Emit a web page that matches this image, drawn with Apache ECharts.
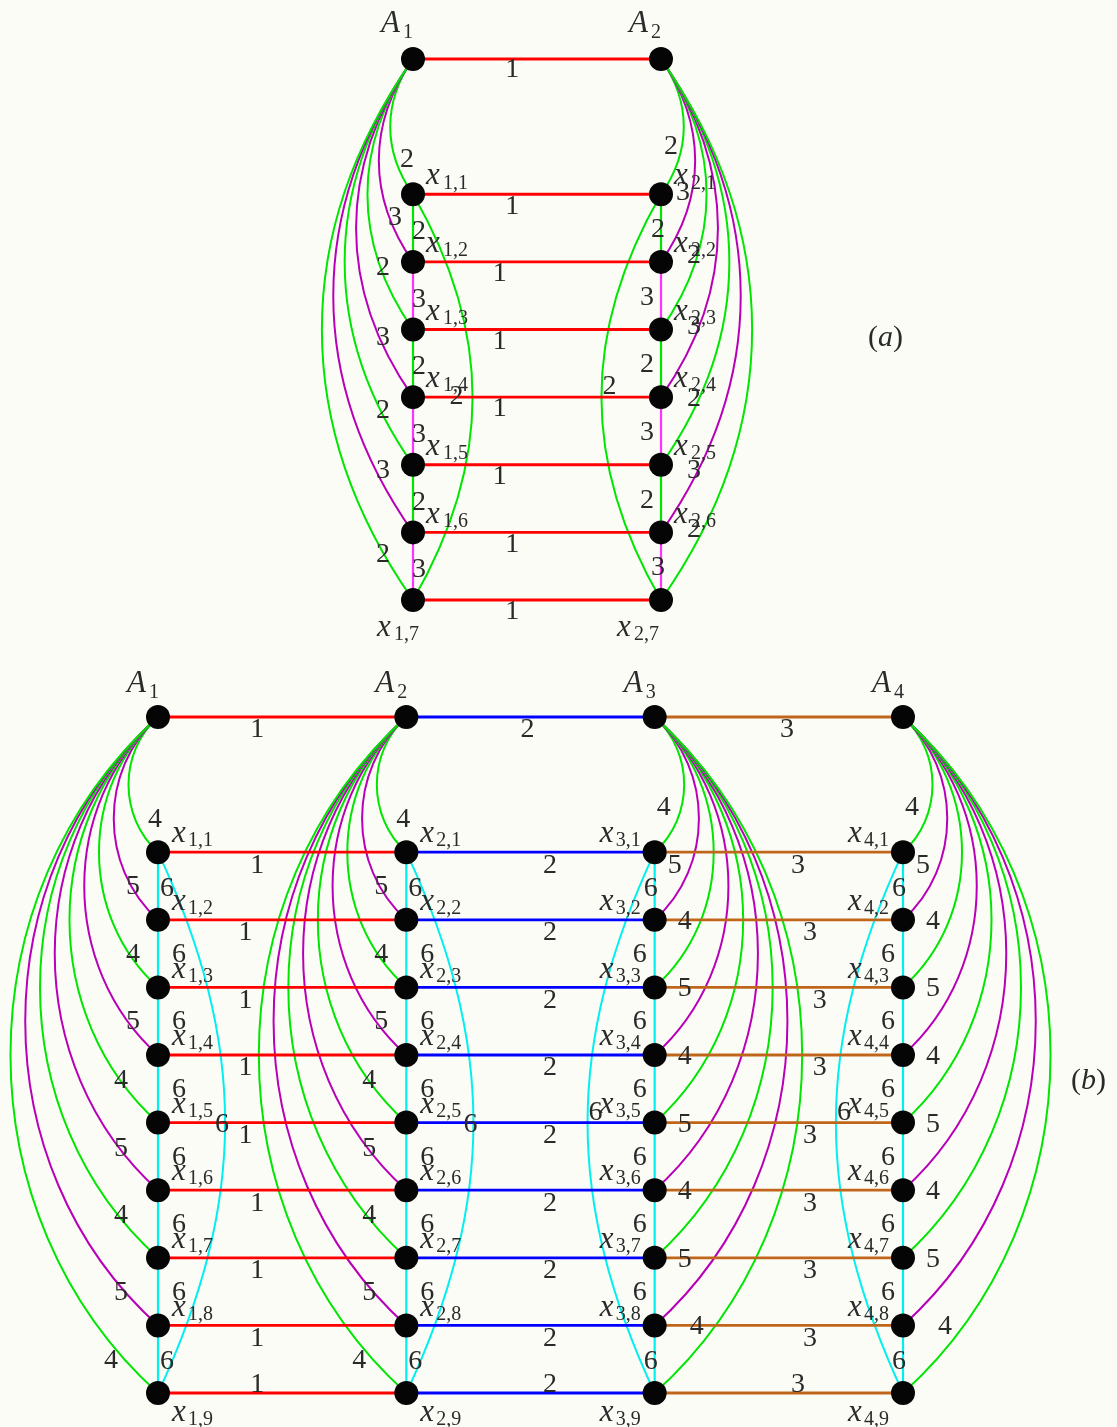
<!DOCTYPE html>
<html>
<head>
<meta charset="utf-8">
<script src="https://cdn.jsdelivr.net/npm/echarts@6/dist/echarts.min.js"></script>
<style>
  html, body { margin: 0; padding: 0; background: #fcfcf7; }
  #chart { width: 1117px; height: 1427px; }
</style>
</head>
<body>
<div id="chart"></div>
<script>
// ---------------- graph data ----------------
// Panel (a): hubs A1, A2, each with a column of vertices x_{i,1..7}
const hubsA = [1, 2];
const rowsA = [1, 2, 3, 4, 5, 6, 7];
const hubLabelsA = [1];                      // A_i – A_{i+1}
const rungLabelsA = [1];                     // x_{i,k} – x_{i+1,k}
const spokeLabelsA = [2, 3, 2, 3, 2, 3, 2];  // A_i – x_{i,k}
const pathLabelsA = [2, 3, 2, 3, 2, 3];      // x_{i,k} – x_{i,k+1}
const chordLabelsA = [2, 2];                 // x_{i,1} – x_{i,7}

// Panel (b): hubs A1..A4, each with a column of vertices x_{i,1..9}
const hubsB = [1, 2, 3, 4];
const rowsB = [1, 2, 3, 4, 5, 6, 7, 8, 9];
const hubLabelsB = [1, 2, 3];
const rungLabelsB = [1, 2, 3];
const spokeLabelsB = [4, 5, 4, 5, 4, 5, 4, 5, 4];
const pathLabelsB = [6, 6, 6, 6, 6, 6, 6, 6];
const chordLabelsB = [6, 6, 6, 6];

// ---------------- styling ----------------
const FONT = '"Liberation Serif", "DejaVu Serif", serif';
const INK = '#2a2a2a';
const colorA = { 1: '#ff0000', 2: '#00e600', 3: '#b800b8' };
const pathColorA = { 2: '#00e600', 3: '#ff33ff' };
const colorB = { 1: '#ff0000', 2: '#0000ff', 3: '#c0661a', 4: '#00e600', 5: '#b800b8', 6: '#00f0f0' };
const DEG = Math.PI / 180;

// edge kinds
const HUB = 0, RUNG = 1, SPOKE = 2, PATH = 3, CHORD = 4;

// edge record: [col0, row0, col1, row1, label, kind, k, col]
function buildEdges(hubs, rows, hubLabels, rungLabels, spokeLabels, pathLabels, chordLabels) {
  const edges = [];
  const n = hubs.length, m = rows.length;
  for (let i = 0; i < n - 1; i++) edges.push([i, 0, i + 1, 0, hubLabels[i], HUB, 0, i]);
  rows.forEach(k => {
    for (let i = 0; i < n - 1; i++) edges.push([i, k + 1, i + 1, k + 1, rungLabels[i], RUNG, k, i]);
  });
  for (let i = 0; i < n; i++) {
    rows.forEach((k, r) => edges.push([i, 0, i, k + 1, spokeLabels[r], SPOKE, k, i]));
    for (let r = 0; r < m - 1; r++) edges.push([i, rows[r] + 1, i, rows[r + 1] + 1, pathLabels[r], PATH, rows[r], i]);
    edges.push([i, rows[0] + 1, i, rows[m - 1] + 1, chordLabels[i], CHORD, 0, i]);
  }
  return edges;
}
function buildNodes(hubs, rows) {
  const nodes = [];
  hubs.forEach((h, i) => {
    nodes.push([i, 0, 0]);
    rows.forEach(k => nodes.push([i, k + 1, k]));
  });
  return nodes;
}

// cubic "bend" between two points (control points at angle theta off the chord)
function bend(p0, p1, theta, side) {
  const dx = p1[0] - p0[0], dy = p1[1] - p0[1];
  const L = Math.hypot(dx, dy);
  const ux = dx / L, uy = dy / L;
  const px = uy, py = -ux;
  const d = 0.3915 * L;
  const c = Math.cos(theta), s = Math.sin(theta) * side;
  return {
    x1: p0[0], y1: p0[1], x2: p1[0], y2: p1[1],
    cpx1: p0[0] + d * (c * ux + s * px), cpy1: p0[1] + d * (c * uy + s * py),
    cpx2: p1[0] + d * (-c * ux + s * px), cpy2: p1[1] + d * (-c * uy + s * py)
  };
}
function bezMid(b) {
  return [(b.x1 + 3 * b.cpx1 + 3 * b.cpx2 + b.x2) / 8, (b.y1 + 3 * b.cpy1 + 3 * b.cpy2 + b.y2) / 8];
}

// ---------------- panel layouts ----------------
const layoutA = {
  cols: 2, spokeBend: 35 * DEG, chordBend: 30 * DEG,
  edgeColor: (lab, kind) => kind === PATH ? pathColorA[lab] : colorA[lab],
  label(kind, k, col, p0, p1, geo) {
    if (kind === HUB) return [p0[0] + 0.4 * (p1[0] - p0[0]), p0[1] + 11];
    if (kind === RUNG) {
      const t = (k >= 2 && k <= 5) ? 0.35 : 0.4;
      return [p0[0] + t * (p1[0] - p0[0]), p0[1] + 12];
    }
    if (kind === SPOKE) {
      const left = [[-6, -35], [-18, -44], [-30, -62], [-30, -59], [-30, -54], [-30, -62], [-30, -45]];
      const right = [[10, -48], [22, -69], [33, -74], [33, -70], [33, -66], [33, -62], [33, -70]];
      const o = (col === 0 ? left : right)[k - 1];
      return [p1[0] + o[0], p1[1] + o[1]];
    }
    if (kind === PATH) {
      if (col === 0) return [p1[0] + 6, p1[1] - 30];
      const edge = (k === 1 || k === 6);
      return [p1[0] + (edge ? -3 : -14), p1[1] - 32];
    }
    const mid = bezMid(geo);
    return col === 0 ? [mid[0] - 16, mid[1]] : [mid[0] + 8, mid[1] - 10];
  },
  nodeLabel(col, k, x, y) {
    if (k === 0) return { main: 'A', sub: String(col + 1), mx: x - 32, my: y - 35, sx: x - 10, sy: y - 26 };
    const sub = (col + 1) + ',' + k;
    if (k === 7) {
      const mx = x + (col === 0 ? -36 : -44);
      return { main: 'x', sub, mx, my: y + 28, sx: mx + 17, sy: y + 35 };
    }
    return { main: 'x', sub, mx: x + 13, my: y - 18, sx: x + 30, sy: y - 11 };
  }
};

const layoutB = {
  cols: 4, spokeBend: 48 * DEG, chordBend: 25 * DEG,
  edgeColor: (lab) => colorB[lab],
  label(kind, k, col, p0, p1, geo) {
    const w = p1[0] - p0[0];
    if (kind === HUB) {
      const t = [0.4, 0.488, 0.533][col];
      return [p0[0] + t * w, p0[1] + 13];
    }
    if (kind === RUNG) {
      let t;
      if (col === 0) t = (k >= 2 && k <= 5) ? 0.352 : 0.4;
      else if (col === 1) t = 0.579;
      else t = (k === 1 || k === 9) ? 0.577 : (k === 3 || k === 4) ? 0.665 : 0.625;
      return [p0[0] + t * w, p0[1] + (k === 9 ? -8 : 13)];
    }
    if (kind === SPOKE) {
      let o;
      if (col < 2) {
        o = k === 1 ? [-3, -33] : k <= 4 ? [-25, -33] : k <= 7 ? [-37, -42] : k === 8 ? [-37, -33] : [-47, -32];
      } else {
        o = k === 1 ? [9, -45] : k === 2 ? [20, -54] : k <= 8 ? [30, -66] : [42, -66];
      }
      return [p1[0] + o[0], p1[1] + o[1]];
    }
    if (kind === PATH) {
      const edge = (k === 1 || k === 8);
      if (col < 2) return [p1[0] + (edge ? 9 : 21), p1[1] + (edge ? -31 : -33)];
      return [p1[0] + (edge ? -4 : -15), p1[1] + (edge ? -31 : -33)];
    }
    const mid = bezMid(geo);
    return col < 2 ? [mid[0] - 3, mid[1] + 2] : [mid[0] + 8, mid[1] - 10];
  },
  nodeLabel(col, k, x, y) {
    if (k === 0) return { main: 'A', sub: String(col + 1), mx: x - 31, my: y - 33, sx: x - 9, sy: y - 24 };
    const sub = (col + 1) + ',' + k;
    const mx = col < 2 ? x + 14 : x - 55;
    if (k === 9) return { main: 'x', sub, mx, my: y + 20, sx: mx + 16, sy: y + 27 };
    return { main: 'x', sub, mx, my: y - 18, sx: mx + 16, sy: y - 11 };
  }
};

// ---------------- render helpers ----------------
function edgeGeometry(layout, api) {
  const p0 = api.coord([api.value(0), api.value(1)]);
  const p1 = api.coord([api.value(2), api.value(3)]);
  const kind = api.value(5), col = api.value(7);
  const leftHalf = col < layout.cols / 2;
  let geo = null;
  if (kind === SPOKE) geo = bend(p0, p1, layout.spokeBend, leftHalf ? -1 : 1);
  else if (kind === CHORD) geo = bend(p0, p1, layout.chordBend, leftHalf ? 1 : -1);
  return { p0, p1, kind, col, k: api.value(6), lab: api.value(4), geo };
}

function edgeLines(layout) {
  return function (params, api) {
    const e = edgeGeometry(layout, api);
    const stroke = layout.edgeColor(e.lab, e.kind);
    if (e.geo) {
      return { type: 'bezierCurve', shape: e.geo, style: { stroke, lineWidth: 2, fill: null }, silent: true };
    }
    return {
      type: 'line',
      shape: { x1: e.p0[0], y1: e.p0[1], x2: e.p1[0], y2: e.p1[1] },
      style: { stroke, lineWidth: e.kind === PATH ? 2.2 : 2.8 }, silent: true
    };
  };
}

function edgeTexts(layout) {
  return function (params, api) {
    const e = edgeGeometry(layout, api);
    const pos = layout.label(e.kind, e.k, e.col, e.p0, e.p1, e.geo);
    return {
      type: 'text', x: pos[0], y: pos[1], silent: true,
      style: { text: String(e.lab), fill: INK, fontFamily: FONT, fontSize: 28, align: 'center', verticalAlign: 'middle' }
    };
  };
}

function nodeMarks(layout) {
  return function (params, api) {
    const c = api.coord([api.value(0), api.value(1)]);
    return {
      type: 'circle', shape: { cx: c[0], cy: c[1], r: 12 }, style: { fill: '#050505' }, silent: true
    };
  };
}

function nodeTexts(layout) {
  return function (params, api) {
    const col = api.value(0), k = api.value(2);
    const c = api.coord([api.value(0), api.value(1)]);
    const L = layout.nodeLabel(col, k, c[0], c[1]);
    return {
      type: 'group', silent: true,
      children: [
        { type: 'text', x: L.mx, y: L.my,
          style: { text: L.main, fill: INK, fontFamily: FONT, fontStyle: 'italic', fontSize: L.main === 'A' ? 31 : 31, align: 'left', verticalAlign: 'middle' } },
        { type: 'text', x: L.sx, y: L.sy,
          style: { text: L.sub, fill: INK, fontFamily: FONT, fontSize: 20, align: 'left', verticalAlign: 'middle' } }
      ]
    };
  };
}

// ---------------- chart ----------------
const edgesA = buildEdges(hubsA, rowsA, hubLabelsA, rungLabelsA, spokeLabelsA, pathLabelsA, chordLabelsA);
const edgesB = buildEdges(hubsB, rowsB, hubLabelsB, rungLabelsB, spokeLabelsB, pathLabelsB, chordLabelsB);
const nodesA = buildNodes(hubsA, rowsA);
const nodesB = buildNodes(hubsB, rowsB);

// curved edges first, straight edges over them
const isCurve = e => e[5] === SPOKE || e[5] === CHORD;
const sortCurvesFirst = arr => arr.slice().sort((a, b) => (isCurve(a) ? 0 : 1) - (isCurve(b) ? 0 : 1));

function panelSeries(edges, nodes, layout, axisIdx) {
  const base = { type: 'custom', coordinateSystem: 'cartesian2d', xAxisIndex: axisIdx, yAxisIndex: axisIdx, clip: false, animation: false };
  return [
    Object.assign({}, base, { z: 2, data: sortCurvesFirst(edges), renderItem: edgeLines(layout), encode: { x: [0, 2], y: [1, 3] } }),
    Object.assign({}, base, { z: 3, data: nodes, renderItem: nodeMarks(layout), encode: { x: 0, y: 1 } }),
    Object.assign({}, base, { z: 4, data: edges, renderItem: edgeTexts(layout), encode: { x: [0, 2], y: [1, 3] } }),
    Object.assign({}, base, { z: 4, data: nodes, renderItem: nodeTexts(layout), encode: { x: 0, y: 1 } })
  ];
}

const hiddenAxis = { show: false, type: 'value' };
const captionRich = {
  p: { fontFamily: FONT, fontSize: 30, fill: INK },
  i: { fontFamily: FONT, fontSize: 30, fontStyle: 'italic', fill: INK }
};
const chart = echarts.init(document.getElementById('chart'), null, { renderer: 'canvas' });
chart.setOption({
  backgroundColor: '#fcfcf7',
  animation: false,
  grid: [
    { left: 413, top: 59, width: 248, height: 541 },
    { left: 158, top: 717, width: 745, height: 676 }
  ],
  xAxis: [
    Object.assign({}, hiddenAxis, { gridIndex: 0, min: 0, max: hubsA.length - 1 }),
    Object.assign({}, hiddenAxis, { gridIndex: 1, min: 0, max: hubsB.length - 1 })
  ],
  yAxis: [
    Object.assign({}, hiddenAxis, { gridIndex: 0, min: 0, max: rowsA.length + 1, inverse: true }),
    Object.assign({}, hiddenAxis, { gridIndex: 1, min: 0, max: rowsB.length + 1, inverse: true })
  ],
  graphic: [
    { type: 'text', left: 868, top: 323, z: 10, style: { text: '{p|(}{i|a}{p|)}', rich: captionRich } },
    { type: 'text', left: 1071, top: 1066, z: 10, style: { text: '{p|(}{i|b}{p|)}', rich: captionRich } }
  ],
  series: [].concat(panelSeries(edgesA, nodesA, layoutA, 0), panelSeries(edgesB, nodesB, layoutB, 1))
});
</script>
</body>
</html>
